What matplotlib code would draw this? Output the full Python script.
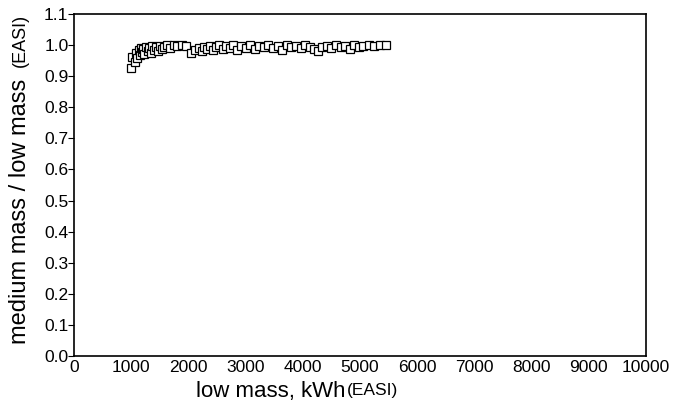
import matplotlib.pyplot as plt

plt.rcParams['font.family'] = ['Liberation Sans', 'DejaVu Sans']

# low mass kWh (EASI) vs ratio medium/low
low_kwh = [990, 1020, 1060, 1090, 1110, 1130, 1150, 1170, 1190, 1210, 1230, 1260,
           1290, 1310, 1340, 1370, 1400, 1430, 1460, 1500, 1540, 1580, 1620, 1680,
           1740, 1800, 1880, 1960, 2050, 2120, 2180, 2230, 2280, 2330, 2380, 2430,
           2480, 2540, 2600, 2660, 2720, 2780, 2850, 2920, 3000, 3080, 3160, 3240,
           3320, 3400, 3480, 3560, 3640, 3720, 3800, 3880, 3960, 4040, 4120, 4200,
           4270, 4340, 4420, 4500, 4580, 4660, 4740, 4820, 4900, 4980, 5060, 5150,
           5250, 5350, 5460]
ratio = [0.927, 0.962, 0.945, 0.975, 0.958, 0.985, 0.968, 0.992, 0.978, 0.988, 0.970, 0.995,
         0.982, 0.990, 0.975, 0.997, 0.985, 0.993, 0.980, 0.998, 0.988, 0.995, 1.000, 0.992,
         1.000, 0.996, 1.000, 0.998, 0.975, 0.985, 0.992, 0.980, 0.995, 0.987, 0.998, 0.983,
         0.993, 1.000, 0.988, 0.996, 0.990, 1.000, 0.985, 0.997, 0.992, 1.000, 0.988, 0.996,
         0.993, 1.000, 0.990, 0.997, 0.985, 1.000, 0.994, 0.998, 0.990, 1.000, 0.995, 0.988,
         0.980, 0.993, 0.998, 0.990, 1.000, 0.993, 0.997, 0.988, 1.000, 0.995, 0.998, 1.000,
         0.997, 1.000, 1.000]

fig = plt.figure(figsize=(6.74, 4.07), dpi=100)
ax = fig.add_axes([74/674, 1-356/407, 572/674, 342/407])

ax.plot(low_kwh, ratio, linestyle='none', marker='s', markersize=5.5,
        markerfacecolor='white', markeredgecolor='black', markeredgewidth=0.9)

ax.set_xlim(0, 10000)
ax.set_ylim(0, 1.1)
ax.set_xticks(range(0, 10001, 1000))
ax.set_yticks([i/10 for i in range(12)])
ax.set_yticklabels([f"{i/10:.1f}" for i in range(12)])
ax.tick_params(axis='x', length=0, labelsize=12.5, pad=3)
ax.tick_params(axis='y', length=4, direction='out', labelsize=12.5, pad=0)
for s in ax.spines.values():
    s.set_linewidth(1.2)

fig.text(196/674, 1-391/407, "low mass, kWh", fontsize=16, va='center', ha='left')
fig.text(347/674, 1-391/407, "(EASI)", fontsize=12.5, va='center', ha='left')
fig.text(20/674, 1-211/407, "medium mass / low mass", fontsize=17, rotation=90,
         va='center', ha='center')
fig.text(20/674, 1-40/407, "(EASI)", fontsize=13, rotation=90, va='center', ha='center')

fig.savefig("out.png", dpi=100)
